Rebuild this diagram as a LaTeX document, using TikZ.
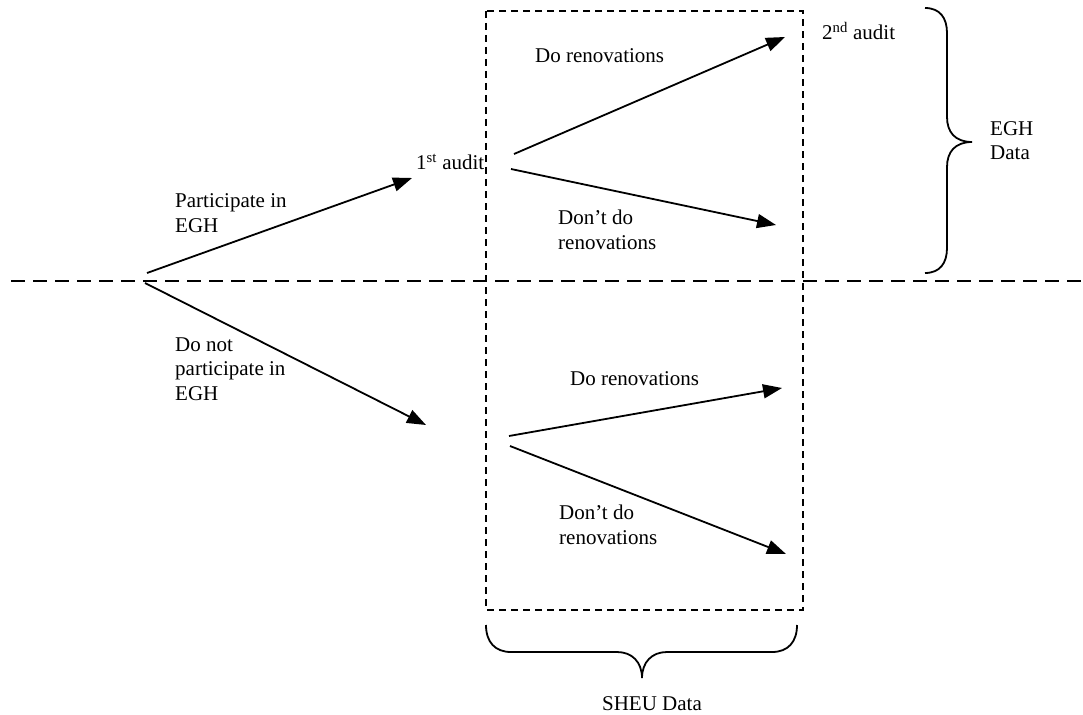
\documentclass[tikz,border=0pt]{standalone}
\usepackage{fontspec}
\setmainfont{Liberation Serif}
\usetikzlibrary{arrows.meta}

\begin{document}
\begin{tikzpicture}[x=1pt, y=-1pt, >={Triangle[length=19pt,width=14pt]},
    branch/.style={line width=1.8pt, ->},
    txt/.style={anchor=base west, inner sep=0pt, align=left, font=\fontsize{21}{24.5}\selectfont},
    divider/.style={line width=1.8pt, dash pattern=on 14pt off 8pt},
    databox/.style={line width=1.8pt, dash pattern=on 7pt off 5pt},
    brace/.style={line width=1.8pt}]
    \useasboundingbox (0,0) rectangle (1083,714);

    % Split between EGH and non-EGH homes
    \draw[divider] (11,281) -- (1083,281);

    % Region covered by the SHEU data
    \draw[databox] (486,11) rectangle (803,610);

    % First decision
    \coordinate (rootA) at (147,273);
    \coordinate (rootB) at (145,283);
    \coordinate (audit1) at (412,178);
    \coordinate (noegh) at (426,425);
    \draw[branch] (rootA) -- (audit1);
    \draw[branch] (rootB) -- (noegh);
    \node[txt] (partlbl) at (175,232) {Participate in\\EGH};
    \node[txt] (nopartlbl) at (175,400) {Do not\\participate in\\EGH};
    \node[txt] (audit1lbl) at (416,170) {1\textsuperscript{st} audit};

    % Branches after the 1st audit
    \coordinate (upA) at (514,154);
    \coordinate (upB) at (511,169);
    \coordinate (audit2) at (785,37);
    \coordinate (upnone) at (776,225);
    \draw[branch] (upA) -- (audit2);
    \draw[branch] (upB) -- (upnone);
    \node[txt] (updo) at (535,63) {Do renovations};
    \node[txt] (updont) at (558,249) {Don’t do\\renovations};
    \node[txt] (audit2lbl) at (822,40) {2\textsuperscript{nd} audit};

    % Branches without EGH
    \coordinate (lowA) at (509,436);
    \coordinate (lowB) at (510,446);
    \coordinate (lowdo) at (782,388);
    \coordinate (lownone) at (786,554);
    \draw[branch] (lowA) -- (lowdo);
    \draw[branch] (lowB) -- (lownone);
    \node[txt] (lowdolbl) at (570,385) {Do renovations};
    \node[txt] (lowdont) at (559,544) {Don’t do\\renovations};

    % Braces
    \draw[brace] (925,8) .. controls (940,8) and (947,18) .. (947,33) -- (947,117)
        .. controls (947,132) and (955,142) .. (972,142)
        .. controls (955,142) and (947,152) .. (947,167) -- (947,248)
        .. controls (947,263) and (940,273) .. (925,273);
    \node[txt] (eghlbl) at (990,160) {EGH\\Data};
    \draw[brace] (486,625) .. controls (486,642) and (495,652) .. (511,652) -- (617,652)
        .. controls (632,652) and (642,662) .. (642,678)
        .. controls (642,662) and (652,652) .. (667,652) -- (772,652)
        .. controls (788,652) and (797,642) .. (797,625);
    \node[txt, anchor=base] (sheulbl) at (652,710) {SHEU Data};
\end{tikzpicture}
\end{document}
